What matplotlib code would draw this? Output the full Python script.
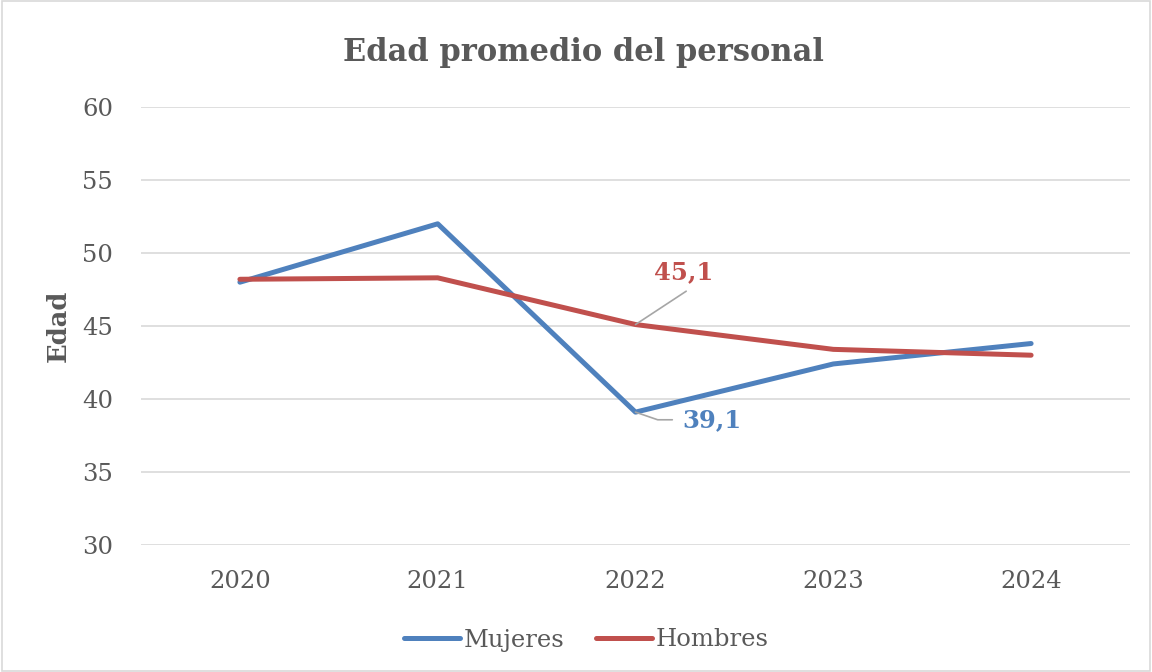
import matplotlib
matplotlib.use("Agg")
import matplotlib.pyplot as plt
from matplotlib.patches import Rectangle

years = ["2020", "2021", "2022", "2023", "2024"]
mujeres = [48.0, 52.0, 39.1, 42.4, 43.8]
hombres = [48.2, 48.3, 45.1, 43.4, 43.0]
yticks = [30, 35, 40, 45, 50, 55, 60]

blue = "#4F81BD"
red = "#C0504D"
grey_txt = "#595959"
font = "DejaVu Serif"

fig = plt.figure(figsize=(11.52, 6.72), dpi=100)
ax = fig.add_axes([141/1152, 1-545/672, (1130-141)/1152, (545-107)/672])

x = list(range(len(years)))
ax.plot(x, mujeres, color=blue, lw=3.6, label="Mujeres", solid_capstyle="round", zorder=3)
ax.plot(x, hombres, color=red, lw=3.6, label="Hombres", solid_capstyle="round", zorder=3)

ax.set_xlim(-0.5, len(years) - 0.5)
ax.set_ylim(30, 60)
ax.set_yticks(yticks)
ax.set_xticks(x)
ax.set_xticklabels(years)
ax.grid(axis="y", color="#D9D9D9", lw=1.2)
ax.set_axisbelow(True)
for s in ax.spines.values():
    s.set_visible(False)
ax.tick_params(length=0, labelsize=17.5, labelcolor=grey_txt)
ax.tick_params(axis="y", pad=20)
ax.tick_params(axis="x", pad=18)
for lab in ax.get_xticklabels() + ax.get_yticklabels():
    lab.set_family(font)

ax.set_ylabel("Edad", fontsize=18.5, fontweight="bold", color=grey_txt, family=font, labelpad=8)

fig.text(583/1152, 1-53/672, "Edad promedio del personal", ha="center", va="center",
         fontsize=22, fontweight="bold", color=grey_txt, family=font)

# data labels with leader lines (offsets in points from the data point)
lead = "#A6A6A6"
ax.annotate("", xy=(2, hombres[2]), xytext=(36.5, 24), textcoords="offset points",
            arrowprops=dict(arrowstyle="-", color=lead, lw=1.2, shrinkA=0, shrinkB=0))
ax.annotate("45,1", xy=(2, hombres[2]), xytext=(35, 38), textcoords="offset points",
            ha="center", va="center", fontsize=17.5, fontweight="bold", color=red, family=font)
ax.annotate("", xy=(2, mujeres[2]), xytext=(26.5, -5.5), textcoords="offset points",
            arrowprops=dict(arrowstyle="-", color=lead, lw=1.2, shrinkA=0, shrinkB=0,
                            connectionstyle="angle,angleA=0,angleB=-19,rad=0"))
ax.annotate("39,1", xy=(2, mujeres[2]), xytext=(55, -6), textcoords="offset points",
            ha="center", va="center", fontsize=17.5, fontweight="bold", color=blue, family=font)

leg = fig.legend(loc="center", bbox_to_anchor=(586/1152, 1-640/672), ncol=2, frameon=False,
                 prop={"family": font, "size": 17.5}, handlelength=2.3, columnspacing=1.3,
                 handletextpad=0.15)
for t in leg.get_texts():
    t.set_color(grey_txt)

fig.patches.append(Rectangle((0.002, 0.002), 0.996, 0.996, transform=fig.transFigure,
                             fill=False, edgecolor="#D9D9D9", lw=1.2))

fig.savefig("out.png", dpi=100)
